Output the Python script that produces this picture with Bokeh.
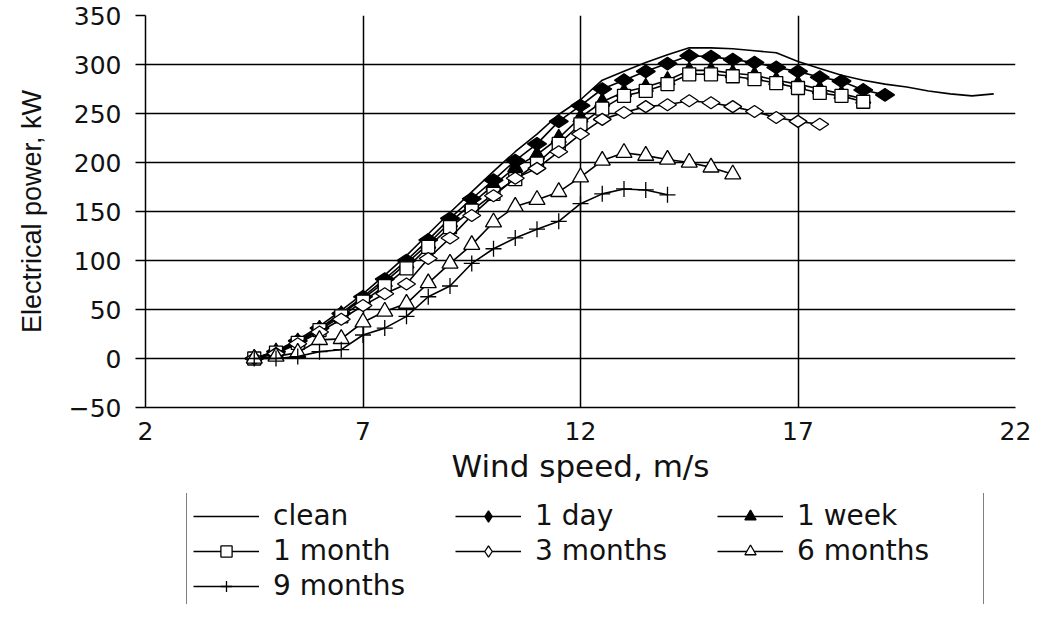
import math
from bokeh.plotting import figure
from bokeh.layouts import column
from bokeh.models import Legend, LegendItem, FixedTicker
from bokeh.embed import file_html
from bokeh.resources import INLINE

# ---------------- data ----------------
clean_x = [4.5, 5.0, 5.5, 6.0, 6.5, 7.0, 7.5, 8.0, 8.5, 9.0, 9.5, 10.0, 10.5, 11.0, 11.5, 12.0,
           12.5, 13.0, 13.5, 14.0, 14.5, 15.0, 15.5, 16.0, 16.5, 17.0, 17.5, 18.0, 18.5, 19.0,
           19.5, 20.0, 20.5, 21.0, 21.5]
clean_y = [0, 8, 19, 33, 49, 66, 85, 105, 127, 149, 170, 191, 211, 229, 249, 264,
           284, 293, 302, 310, 317, 317, 316, 314, 312, 303, 296, 289, 284, 280,
           277, 273, 270, 268, 270]

day_x = [4.5, 5.0, 5.5, 6.0, 6.5, 7.0, 7.5, 8.0, 8.5, 9.0, 9.5, 10.0, 10.5, 11.0, 11.5, 12.0,
         12.5, 13.0, 13.5, 14.0, 14.5, 15.0, 15.5, 16.0, 16.5, 17.0, 17.5, 18.0, 18.5, 19.0]
day_y = [0, 7, 18, 31, 46, 63, 81, 100, 121, 143, 163, 182, 202, 219, 242, 258,
         275, 284, 293, 301, 309, 308, 305, 302, 297, 293, 287, 283, 274, 269]

week_x = [4.5, 5.0, 5.5, 6.0, 6.5, 7.0, 7.5, 8.0, 8.5, 9.0, 9.5, 10.0, 10.5, 11.0, 11.5, 12.0,
          12.5, 13.0, 13.5, 14.0, 14.5, 15.0, 15.5, 16.0, 16.5, 17.0, 17.5, 18.0, 18.5]
week_y = [0, 7, 17, 30, 45, 61, 78, 97, 117, 139, 158, 177, 195, 208, 225, 246,
          262, 272, 277, 284, 294, 294, 291, 289, 284, 280, 275, 270, 265]

month_x = [4.5, 5.0, 5.5, 6.0, 6.5, 7.0, 7.5, 8.0, 8.5, 9.0, 9.5, 10.0, 10.5, 11.0, 11.5, 12.0,
           12.5, 13.0, 13.5, 14.0, 14.5, 15.0, 15.5, 16.0, 16.5, 17.0, 17.5, 18.0, 18.5]
month_y = [0, 6, 16, 29, 43, 58, 74, 92, 114, 134, 151, 168, 183, 199, 219, 239,
           255, 268, 273, 280, 290, 290, 288, 285, 281, 276, 271, 268, 262]

m3_x = [4.5, 5.0, 5.5, 6.0, 6.5, 7.0, 7.5, 8.0, 8.5, 9.0, 9.5, 10.0, 10.5, 11.0, 11.5, 12.0,
        12.5, 13.0, 13.5, 14.0, 14.5, 15.0, 15.5, 16.0, 16.5, 17.0, 17.5]
m3_y = [0, 5, 15, 27, 40, 54, 66, 76, 102, 123, 146, 166, 184, 194, 211, 229,
        244, 251, 257, 259, 263, 261, 257, 252, 246, 242, 239]

m6_x = [4.5, 5.0, 5.5, 6.0, 6.5, 7.0, 7.5, 8.0, 8.5, 9.0, 9.5, 10.0, 10.5, 11.0, 11.5, 12.0,
        12.5, 13.0, 13.5, 14.0, 14.5, 15.0, 15.5]
m6_y = [0, 2, 6, 19, 20, 37, 48, 56, 77, 97, 116, 139, 155, 162, 170, 185,
        202, 210, 207, 203, 200, 195, 188]

m9_x = [4.5, 5.0, 5.5, 6.0, 6.5, 7.0, 7.5, 8.0, 8.5, 9.0, 9.5, 10.0, 10.5, 11.0, 11.5, 12.0,
        12.5, 13.0, 13.5, 14.0]
m9_y = [0, 0, 2, 7, 9, 24, 31, 43, 63, 74, 97, 112, 123, 132, 140, 158,
        168, 173, 172, 167]

series_labels = ["clean", "1 day", "1 week", "1 month", "3 months", "6 months", "9 months"]

x_ticks = [2, 7, 12, 17, 22]
y_ticks = [-50, 0, 50, 100, 150, 200, 250, 300, 350]
y_grid = [0, 50, 100, 150, 200, 250, 300]

TXT = "#111111"
FONT = "DejaVu Sans"
W = 1031
TOTAL_H = 604
BOTTOM = 86

# ---------------- main figure ----------------
p = figure(frame_width=870, frame_height=392,
           min_border_left=145, min_border_top=15, min_border_right=16, min_border_bottom=BOTTOM,
           x_range=(2, 22), y_range=(-50, 350),
           output_backend="svg", toolbar_location=None,
           background_fill_color="white", border_fill_color="white")
p.outline_line_color = None

p.xaxis.ticker = FixedTicker(ticks=x_ticks)
p.yaxis.ticker = FixedTicker(ticks=y_ticks)
p.yaxis.major_label_overrides = {-50: "\u221250"}
for ax in (p.xaxis[0], p.yaxis[0]):
    ax.axis_line_color = "black"
    ax.axis_line_width = 1.5
    ax.major_tick_line_color = "black"
    ax.major_tick_line_width = 1.5
    ax.minor_tick_line_color = None
    ax.major_label_text_font = FONT
    ax.major_label_text_font_size = "25px"
    ax.major_label_text_color = TXT
    ax.axis_label_text_font_style = "normal"
    ax.axis_label_text_color = TXT

p.xaxis.major_tick_out = 0
p.xaxis.major_tick_in = 0
p.xaxis.major_label_standoff = 14
p.xaxis.axis_label = "Wind speed, m/s"
p.xaxis.axis_label_text_font = FONT
p.xaxis.axis_label_text_font_size = "31px"
p.xaxis.axis_label_standoff = 5

p.yaxis.major_tick_out = 10
p.yaxis.major_tick_in = 0
p.yaxis.major_label_standoff = 14
p.yaxis.axis_label = "Electrical power, kW"
p.yaxis.axis_label_text_font = "Liberation Sans"
p.yaxis.axis_label_text_font_size = "27px"
p.yaxis.axis_label_standoff = 19

p.xgrid.ticker = FixedTicker(ticks=[7, 12, 17, 22])
p.ygrid.ticker = FixedTicker(ticks=y_grid)
p.xgrid.grid_line_color = "black"
p.ygrid.grid_line_color = "black"
p.xgrid.grid_line_width = 1.5
p.ygrid.grid_line_width = 1.5

LW = 1.6
specs = [
    (clean_x, clean_y, None, None, 0, 0.0),
    (day_x, day_y, "diamond", "black", 19, math.pi / 2),
    (week_x, week_y, "triangle", "black", 15, 0.0),
    (month_x, month_y, "square", "white", 13, 0.0),
    (m3_x, m3_y, "diamond", "white", 18, math.pi / 2),
    (m6_x, m6_y, "triangle", "white", 16, 0.0),
    (m9_x, m9_y, "cross", "white", 16, 0.0),
]

def draw(fig, visible, legend_scale=1.0):
    out = []
    for (xs, ys, marker, fill, size, angle) in specs:
        rs = [fig.line(xs, ys, line_color="black", line_width=LW, visible=visible)]
        if marker is not None:
            rs.append(fig.scatter(xs, ys, marker=marker, size=size * legend_scale, angle=angle,
                                  fill_color=fill, line_color="black", line_width=1.3,
                                  visible=visible))
        out.append(rs)
    return out

draw(p, True)

# ---------------- legend strip ----------------
main_h = 15 + 392 + BOTTOM
lf = figure(width=W, height=TOTAL_H - main_h, x_range=(0, 1), y_range=(-1000, -999),
            x_axis_type=None, y_axis_type=None, min_border=0,
            output_backend="svg", toolbar_location=None,
            background_fill_color="white", border_fill_color="white")
lf.outline_line_color = None
lf.grid.visible = False
leg_r = draw(lf, False, legend_scale=0.62)
items = [LegendItem(label=lab, renderers=rs) for lab, rs in zip(series_labels, leg_r)]

legend = Legend(items=items, ncols=3, orientation="horizontal", location=(41, -5),
                label_text_font=FONT, label_text_font_size="28px", label_text_color=TXT,
                glyph_width=66, glyph_height=28, label_standoff=14, label_width=180,
                label_height=29, spacing=2, padding=6, margin=0,
                border_line_color="black", border_line_width=1.5,
                background_fill_alpha=1.0, inactive_fill_alpha=0.0)
lf.add_layout(legend, "center")

layout = column(p, lf, spacing=0)
open("out.html", "w").write(file_html(layout, INLINE))
